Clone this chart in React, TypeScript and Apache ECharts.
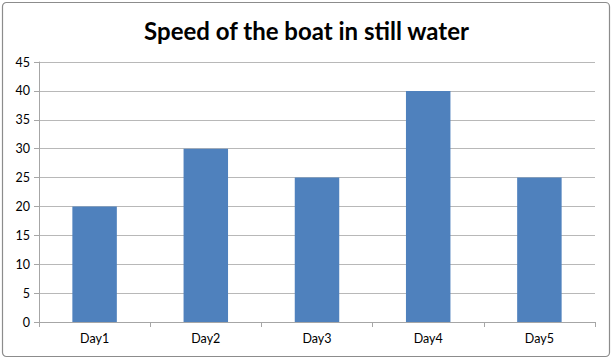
import React, { useEffect, useRef } from "react";
import * as echarts from "echarts";

const titleText = "Speed of the boat in still water";
const categories = ["Day1", "Day2", "Day3", "Day4", "Day5"];
const speeds = [20, 30, 25, 40, 25];

export default function App() {
  const ref = useRef<HTMLDivElement>(null);
  useEffect(() => {
    if (!ref.current) return;
    const chart = echarts.init(ref.current, null, { renderer: "svg" });
    chart.setOption({
      animation: false,
      backgroundColor: "#ffffff",
      title: {
        text: titleText,
        left: "center",
        top: 13,
        textStyle: { fontFamily: "Lato", fontWeight: "bold", fontSize: 24, color: "#000" },
      },
      graphic: [
        {
          type: "rect",
          shape: { x: 2.5, y: 2.5, width: 607, height: 354, r: 4 },
          style: { fill: "none", stroke: "#8c8c8c", lineWidth: 1.2 },
          silent: true,
        },
      ],
      grid: { left: 39, right: 18, top: 62, bottom: 38 },
      xAxis: {
        type: "category",
        data: categories,
        axisLine: { lineStyle: { color: "#a6a6a6" } },
        axisTick: { show: true, length: 5, alignWithLabel: false, lineStyle: { color: "#a6a6a6" } },
        axisLabel: { color: "#000", fontFamily: "Lato", fontSize: 12.5, margin: 10 },
      },
      yAxis: {
        type: "value",
        min: 0,
        max: 45,
        interval: 5,
        axisLine: { show: true, lineStyle: { color: "#a6a6a6" } },
        axisTick: { show: true, length: 5, lineStyle: { color: "#a6a6a6" } },
        axisLabel: { color: "#000", fontFamily: "Lato", fontSize: 12.5, margin: 9 },
        splitLine: { lineStyle: { color: "#b8b8b8" } },
      },
      series: [
        {
          type: "bar",
          data: speeds,
          barWidth: "40%",
          itemStyle: { color: "#4f81bd" },
        },
      ],
    });
    return () => chart.dispose();
  }, []);
  return (
    <div
      ref={ref}
      style={{ position: "fixed", left: 0, top: 0, width: 613, height: 360 }}
    />
  );
}
